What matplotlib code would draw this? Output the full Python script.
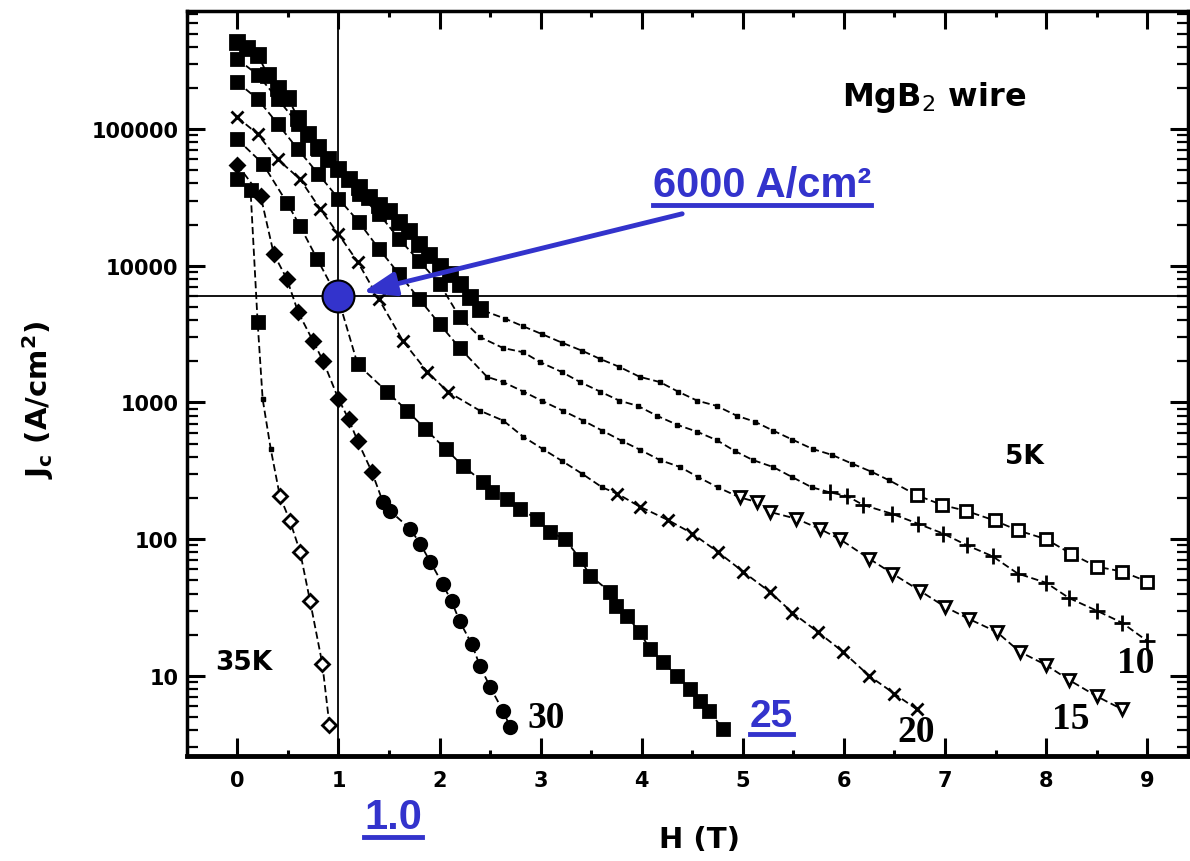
import numpy as np
import matplotlib
matplotlib.use('Agg')
import matplotlib.pyplot as plt
from matplotlib.lines import Line2D
from matplotlib.ticker import MultipleLocator, LogLocator, NullFormatter

# H (T) and Jc (A/cm^2)
H_5K = [0, 0.1, 0.2, 0.3, 0.4, 0.5, 0.6, 0.7, 0.8, 0.9, 1.0, 1.1, 1.2, 1.3, 1.4, 1.5,
        1.6, 1.7, 1.8, 1.9, 2.0, 2.1, 2.2, 2.3, 2.4,
        2.65, 2.83, 3.01, 3.21, 3.41, 3.59, 3.78, 3.98, 4.18, 4.36, 4.55, 4.74, 4.94,
        5.12, 5.30, 5.49, 5.69, 5.88, 6.08, 6.27, 6.45, 6.72, 6.97, 7.21, 7.49, 7.72,
        8.0, 8.25, 8.5, 8.75, 9.0]
J_5K = [4.3e5, 3.9e5, 3.5e5, 2.5e5, 2.0e5, 1.7e5, 1.2e5, 9.2e4, 7.4e4, 6.0e4, 5.1e4,
        4.3e4, 3.8e4, 3.2e4, 2.8e4, 2.5e4, 2.1e4, 1.8e4, 1.45e4, 1.2e4, 1.0e4, 8.7e3,
        7.4e3, 5.9e3, 4.8e3,
        4100, 3600, 3170, 2740, 2390, 2080, 1820, 1540, 1410, 1200, 1030, 945, 800,
        723, 622, 535, 457, 414, 357, 312, 269, 210, 178, 161, 137, 116,
        100, 78, 63, 58, 49]

H_10K = [0, 0.2, 0.4, 0.6, 0.8, 1.0, 1.2, 1.4, 1.6, 1.8, 2.0, 2.2,
         2.4, 2.63, 2.83, 2.99, 3.21, 3.39, 3.59, 3.78, 3.96, 4.15, 4.35, 4.55, 4.74,
         4.92, 5.10, 5.30, 5.49, 5.68, 5.86, 6.03, 6.19, 6.48, 6.73, 6.98, 7.22, 7.47,
         7.72, 8.0, 8.23, 8.5, 8.75, 9.0]
J_10K = [3.25e5, 2.5e5, 1.66e5, 1.09e5, 7.1e4, 5.1e4, 3.35e4, 2.4e4, 1.57e4, 1.08e4,
         7.4e3, 4.2e3,
         3010, 2500, 2330, 1980, 1670, 1410, 1200, 1030, 945, 800, 687, 610, 531,
         442, 379, 337, 284, 240, 220, 207, 178, 153, 130, 110, 90, 75,
         56, 48, 37, 30, 24.5, 18]

H_15K = [0, 0.2, 0.4, 0.6, 0.8, 1.0, 1.2, 1.4, 1.6, 1.8, 2.0, 2.2,
         2.47, 2.63, 2.83, 3.01, 3.22, 3.42, 3.61, 3.80, 3.98, 4.18, 4.38, 4.56, 4.75,
         4.97, 5.14, 5.27, 5.53, 5.76, 5.96, 6.25, 6.48, 6.75, 7.0, 7.24, 7.51, 7.74,
         8.0, 8.23, 8.5, 8.75]
J_15K = [2.2e5, 1.66e5, 1.09e5, 7.1e4, 4.7e4, 3.1e4, 2.1e4, 1.33e4, 8.7e3, 5.7e3,
         3.75e3, 2.5e3,
         1540, 1410, 1200, 1030, 870, 737, 622, 525, 452, 379, 337, 284, 240,
         202, 187, 158, 141, 119, 100, 72, 56, 42, 32, 26, 21, 15,
         12, 9.3, 7.1, 5.7]

H_20K = [0, 0.2, 0.4, 0.62, 0.82, 1.0, 1.19, 1.4, 1.64, 1.88, 2.08,
         2.4, 2.63, 2.83, 3.02, 3.21, 3.41, 3.61, 3.76, 3.98, 4.26, 4.50, 4.75, 5.0,
         5.27, 5.49, 5.74, 5.99, 6.25, 6.50, 6.72]
J_20K = [1.22e5, 9.2e4, 6.0e4, 4.3e4, 2.6e4, 1.7e4, 1.07e4, 5.7e3, 2.8e3, 1.67e3, 1.2e3,
         870, 737, 560, 457, 374, 301, 239, 215, 173, 138, 110, 81, 58,
         41, 29, 21, 15, 10, 7.4, 5.7]

H_25K = [0, 0.25, 0.49, 0.62, 0.79, 1.0, 1.19, 1.48, 1.68, 1.86, 2.06, 2.23, 2.43,
         2.52, 2.67, 2.80, 2.96, 3.09, 3.24, 3.39, 3.49, 3.69, 3.75, 3.85, 3.98, 4.08,
         4.21, 4.35, 4.48, 4.58, 4.67, 4.80]
J_25K = [8.4e4, 5.6e4, 2.9e4, 1.95e4, 1.12e4, 5.7e3, 1.9e3, 1.2e3, 870, 640, 457, 344, 262,
         221, 197, 166, 141, 113, 100, 72, 54, 41, 32.5, 27.5, 21, 15.7,
         12.6, 10, 8.0, 6.5, 5.5, 4.1]

H_30K = [0, 0.23, 0.36, 0.49, 0.6, 0.75, 0.85, 1.0, 1.1, 1.19, 1.33,
         1.44, 1.51, 1.71, 1.81, 1.91, 2.03, 2.12, 2.2, 2.32, 2.4, 2.5, 2.63, 2.7]
J_30K = [5.5e4, 3.25e4, 1.22e4, 8.0e3, 4.6e3, 2.8e3, 2.0e3, 1.06e3, 757, 522, 311,
         187, 161, 119, 92, 68, 47, 35, 25, 17, 11.8, 8.3, 5.5, 4.2]

H_35K = [0, 0.13, 0.2, 0.25, 0.33, 0.42, 0.52, 0.62, 0.72, 0.84, 0.91]
J_35K = [4.3e4, 3.6e4, 3.9e3, 1.06e3, 457, 207, 136, 81, 35, 12.3, 4.4]

y_ticks = [10, 100, 1000, 10000, 100000]
y_ticklabels = ['10', '100', '1000', '10000', '100000']
x_ticks = list(range(10))

BLUE = '#3333CC'

fig = plt.figure(figsize=(11.9, 8.62), dpi=100)
ax = fig.add_axes([0.157, 0.122, 0.841, 0.864])
ax.set_yscale('log')
ax.set_xlim(-0.5, 9.4)
ax.set_ylim(2.6, 7.3e5)


def draw(H, J, head_end, open_start, head_mk, tail_mk, tail_ms, tail_fc, head_ms=8):
    H = np.array(H)
    J = np.array(J)
    ax.plot(H, J, color='black', lw=1.3, ls=(0, (4, 2)), zorder=2)
    head = H <= head_end
    mid = (H > head_end) & (H < open_start)
    tail = H >= open_start
    ax.plot(H[head], J[head], ls='none', marker=head_mk, ms=head_ms,
            color='black', mew=2, zorder=3)
    ax.plot(H[mid], J[mid], ls='none', marker='s', ms=3.5, color='black', zorder=3)
    ax.plot(H[tail], J[tail], ls='none', marker=tail_mk, ms=tail_ms,
            mfc=tail_fc, mec='black', mew=2, zorder=3)


draw(H_5K, J_5K, 2.4, 6.7, 's', 's', 8, 'white', head_ms=10)
draw(H_10K, J_10K, 2.2, 5.8, 's', '+', 11, 'none', head_ms=9)
draw(H_15K, J_15K, 2.2, 4.95, 's', 'v', 9, 'white')
draw(H_20K, J_20K, 2.1, 3.7, 'x', 'x', 8, 'none', head_ms=9)
draw(H_25K, J_25K, 9, 9, 's', 's', 8, 'black')
draw(H_30K, J_30K, 1.35, 1.4, 'D', 'o', 9, 'black', head_ms=7)
draw(H_35K, J_35K, 0.2, 0.4, 's', 'D', 7, 'white')

# reference lines and highlighted point
ax.axhline(6000, color='black', lw=1.3, zorder=1)
ax.axvline(1.0, color='black', lw=1.3, zorder=1)
ax.plot([1.0], [6000], 'o', ms=23, mfc=BLUE, mec='black', mew=1.5, zorder=10)
ax.annotate('', xy=(1.24, 6400), xytext=(4.40, 2.40e4),
            arrowprops=dict(arrowstyle='-|>,head_length=1.1,head_width=0.4',
                            color=BLUE, lw=3.5, shrinkA=0, shrinkB=0,
                            mutation_scale=18), zorder=11)

# axes styling
for side in ['left', 'right', 'top']:
    ax.spines[side].set_linewidth(2.5)
ax.spines['bottom'].set_linewidth(3.5)
ax.set_xticks(x_ticks)
ax.set_xticklabels([str(v) for v in x_ticks])
ax.xaxis.set_minor_locator(MultipleLocator(0.5))
ax.set_yticks(y_ticks)
ax.set_yticklabels(y_ticklabels)
ax.yaxis.set_minor_locator(LogLocator(base=10, subs=np.arange(2, 10)))
ax.yaxis.set_minor_formatter(NullFormatter())
ax.tick_params(which='both', direction='in', top=True, right=True)
ax.tick_params(which='major', length=13, width=2.2)
ax.tick_params(axis='x', which='minor', length=4, width=2.2)
ax.tick_params(axis='y', which='minor', length=8, width=1.6)
ax.tick_params(axis='x', which='major', pad=10, labelsize=15)
ax.tick_params(axis='y', which='major', pad=6, labelsize=15)
for lab in ax.get_xticklabels() + ax.get_yticklabels():
    lab.set_fontweight('bold')
    lab.set_family('DejaVu Sans')

ax.set_xlabel('H (T)', fontsize=21, fontweight='bold')
ax.xaxis.set_label_coords(0.512, -0.111)
ax.xaxis.label.set_va('center')
ax.set_ylabel(r'J$_\mathbf{c}$ (A/cm$^\mathbf{2}$)', fontsize=21, fontweight='bold')
ax.yaxis.set_label_coords(-0.149, 0.479)
ax.yaxis.label.set_va('center')

# in-plot labels
ax.text(5.98, 1.74e5, r'MgB$_2$ wire', fontsize=23, fontweight='bold',
        ha='left', va='center')
ax.text(7.59, 406, '5K', fontsize=19, fontweight='bold', ha='left', va='center')
ax.text(-0.22, 12.6, '35K', fontsize=19, fontweight='bold', ha='left', va='center')

serif = dict(family='Liberation Serif', fontweight='bold', fontsize=27,
             ha='left', va='center')
ax.text(2.87, 5.0, '30', **serif)
ax.text(6.53, 3.9, '20', **serif)
ax.text(8.06, 4.85, '15', **serif)
ax.text(8.70, 12.6, '10', **serif)

blue_txt = dict(family='Liberation Sans', fontweight='bold', color=BLUE, ha='left')
t25 = ax.text(5.07, 5.1, '25', fontsize=28, va='center', **blue_txt)
t6000 = ax.text(4.11, 3.24e4, '6000 A/cm²', fontsize=30, va='baseline', **blue_txt)
t10 = fig.text(0.306, 0.051, '1.0', fontsize=30, va='center', **blue_txt)


def underline(t, lw=3.5):
    fig.canvas.draw()
    bb = t.get_window_extent()
    inv = fig.transFigure.inverted()
    (x0, y0), (x1, y1) = inv.transform([(bb.x0, bb.y0), (bb.x1, bb.y1)])
    fig.add_artist(Line2D([x0, x1], [y0, y0], color=BLUE, lw=lw,
                          transform=fig.transFigure))


for t in (t25, t6000, t10):
    underline(t)

fig.savefig('out.png', dpi=100)
